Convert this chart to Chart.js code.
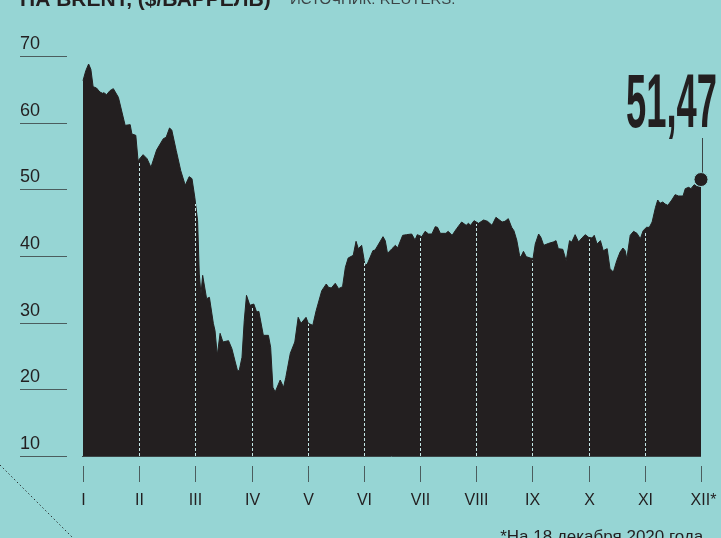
<!DOCTYPE html>
<html>
<head>
<meta charset="utf-8">
<script src="https://cdn.jsdelivr.net/npm/chart.js@4.4.0/dist/chart.umd.min.js"></script>
<style>
  html, body { margin: 0; padding: 0; background: #96d5d4; }
  #myChart { display: block; }
</style>
</head>
<body>
<canvas id="myChart" width="721" height="538" style="width:721px;height:538px"></canvas>
<script>
// month labels on the x axis (position 0 = January)
const monthLabels = ["I", "II", "III", "IV", "V", "VI", "VII", "VIII", "IX", "X", "XI", "XII*"];
const yTicks = [10, 20, 30, 40, 50, 60, 70];

// Brent price, $/barrel, position in months from 1 January
const monthPos = [
  0, 0.05, 0.10, 0.14, 0.18, 0.24, 0.30, 0.35, 0.37, 0.42, 0.48, 0.54, 0.63, 0.75, 0.84, 0.87, 0.94, 0.98,
  1.07, 1.14, 1.21, 1.31, 1.43, 1.48, 1.54, 1.58, 1.66, 1.74, 1.82, 1.89, 1.94, 1.99,
  2.04, 2.07, 2.10, 2.13, 2.20, 2.25, 2.32, 2.35, 2.39, 2.44, 2.49, 2.59, 2.65, 2.71, 2.75, 2.78, 2.83, 2.87, 2.91, 2.97,
  3.04, 3.09, 3.13, 3.21, 3.30, 3.34, 3.38, 3.42, 3.51, 3.57, 3.61, 3.69, 3.77, 3.83, 3.88, 3.97,
  4.01, 4.09, 4.15, 4.25, 4.33, 4.37, 4.42, 4.49, 4.55, 4.62, 4.67, 4.72, 4.81, 4.86, 4.90, 4.96,
  5.02, 5.06, 5.16, 5.20, 5.34, 5.38, 5.42, 5.50, 5.56, 5.60, 5.69, 5.76, 5.85, 5.91, 5.95,
  6.03, 6.09, 6.15, 6.21, 6.27, 6.31, 6.36, 6.46, 6.50, 6.57, 6.65, 6.74, 6.82, 6.86, 6.90, 6.96,
  7.04, 7.13, 7.20, 7.28, 7.35, 7.46, 7.51, 7.57, 7.63, 7.67, 7.72, 7.77, 7.79, 7.84, 7.89, 7.96,
  8.01, 8.05, 8.11, 8.15, 8.20, 8.29, 8.37, 8.42, 8.46, 8.54, 8.60, 8.66, 8.70, 8.76, 8.82, 8.88, 8.94,
  9.00, 9.06, 9.10, 9.15, 9.21, 9.26, 9.33, 9.38, 9.44, 9.50, 9.56, 9.61, 9.65, 9.68, 9.74, 9.80, 9.86, 9.92, 9.97,
  10.03, 10.08, 10.13, 10.19, 10.23, 10.27, 10.32, 10.36, 10.41, 10.48, 10.54, 10.60, 10.68, 10.72, 10.78, 10.82, 10.88, 10.93,
  11.00
];
const prices = [
  66.3, 67.8, 68.8, 68.0, 65.4, 65.2, 64.6, 64.4, 64.5, 64.2, 64.8, 65.1, 63.8, 59.6, 59.7, 58.3, 58.1, 54.3,
  55.2, 54.6, 53.3, 55.9, 57.6, 57.8, 59.2, 58.9, 55.8, 52.8, 50.6, 51.9, 51.6, 48.8,
  45.3, 37.3, 34.3, 37.1, 33.6, 33.8, 29.9, 28.8, 25.1, 28.4, 27.1, 27.3, 26.1, 24.1, 22.8, 22.8, 24.8, 30.3, 34.1, 32.6,
  32.8, 31.6, 31.7, 28.1, 28.1, 26.3, 20.3, 19.6, 21.4, 20.3, 21.8, 25.4, 27.1, 30.8, 29.9, 30.8,
  29.9, 29.6, 31.8, 34.8, 35.8, 35.3, 35.2, 35.9, 35.1, 35.4, 38.3, 39.7, 40.1, 42.2, 41.1, 41.6,
  38.6, 38.8, 40.8, 40.9, 42.9, 42.3, 40.4, 41.1, 41.6, 41.2, 43.1, 43.2, 43.3, 42.4, 43.2,
  42.9, 43.7, 43.3, 43.3, 44.4, 44.3, 43.4, 43.4, 43.7, 43.1, 44.1, 45.1, 44.6, 44.9, 44.6, 45.3,
  44.9, 45.4, 45.2, 44.6, 45.8, 45.1, 45.2, 45.6, 44.3, 43.8, 42.4, 40.1, 39.8, 40.7, 39.9, 39.7,
  39.6, 41.8, 43.3, 42.8, 41.6, 41.9, 42.1, 42.3, 41.1, 41.0, 39.3, 42.3, 42.1, 43.2, 42.1, 42.7, 43.2,
  42.8, 42.7, 43.1, 41.8, 42.3, 40.8, 41.1, 38.1, 37.6, 39.3, 40.6, 41.2, 40.8, 39.6, 43.1, 43.7, 43.4, 42.6, 43.8,
  44.3, 44.3, 45.1, 47.3, 48.4, 47.9, 48.1, 47.8, 47.6, 48.4, 49.2, 49.0, 49.0, 50.1, 50.3, 50.1, 50.7, 50.4,
  51.47
];
const lastPriceText = "51,47";

const bg = "#96d5d4";
const ink = "#231f20";

// price at any month position, for the dashed month lines
function priceAt(t) {
  for (let i = 1; i < monthPos.length; i++) {
    if (monthPos[i] >= t) {
      const a = monthPos[i - 1], b = monthPos[i];
      const k = b === a ? 0 : (t - a) / (b - a);
      return prices[i - 1] + (prices[i] - prices[i - 1]) * k;
    }
  }
  return prices[prices.length - 1];
}

const decor = {
  id: "decor",
  beforeDraw(chart) {
    const c = chart.ctx;
    c.save();
    c.fillStyle = bg;
    c.fillRect(0, 0, chart.width, chart.height);
    c.restore();
  },
  afterDatasetsDraw(chart) {
    const c = chart.ctx;
    const x = chart.scales.x, y = chart.scales.y;
    const base = y.getPixelForValue(10);
    c.save();
    // dashed month separators inside the area
    c.strokeStyle = "#c4e6e5";
    c.lineWidth = 1;
    c.setLineDash([3, 2]);
    for (let m = 1; m <= 10; m++) {
      const px = Math.round(x.getPixelForValue(m)) + 0.5;
      c.beginPath();
      c.moveTo(px, base);
      c.lineTo(px, y.getPixelForValue(priceAt(m)) + 2);
      c.stroke();
    }
    c.restore();
  },
  afterDraw(chart) {
    const c = chart.ctx;
    const x = chart.scales.x, y = chart.scales.y;
    c.save();

    // title (cut off by the top edge)
    c.fillStyle = ink;
    c.textBaseline = "alphabetic";
    c.font = "bold 21px 'Liberation Sans', Arial, sans-serif";
    c.fillText("НА BRENT, ($/БАРРЕЛЬ)", 20, 6);
    c.fillStyle = "#3c4446";
    c.font = "15px 'Liberation Sans', Arial, sans-serif";
    c.fillText("ИСТОЧНИК: REUTERS.", 290, 4);

    // y labels with short rules
    c.font = "18px 'Liberation Sans', Arial, sans-serif";
    yTicks.forEach(v => {
      const py = Math.round(y.getPixelForValue(v)) + 0.5;
      c.strokeStyle = "#4b5d5e";
      c.lineWidth = 1.2;
      c.beginPath();
      c.moveTo(20, py);
      c.lineTo(67, py);
      c.stroke();
      c.fillStyle = ink;
      c.textAlign = "left";
      c.fillText(String(v), 20, py - 8);
    });

    // baseline
    const base = Math.round(y.getPixelForValue(10)) + 0.5;
    c.strokeStyle = "#3b4546";
    c.lineWidth = 1;
    c.beginPath();
    c.moveTo(x.getPixelForValue(0) - 1, base);
    c.lineTo(x.getPixelForValue(11), base);
    c.stroke();

    // month ticks and labels
    c.font = "16px 'Liberation Sans', Arial, sans-serif";
    c.textAlign = "center";
    monthLabels.forEach((lab, i) => {
      const px = Math.round(x.getPixelForValue(i)) + 0.5;
      c.strokeStyle = "#4b5d5e";
      c.beginPath();
      c.moveTo(px, 466);
      c.lineTo(px, 482);
      c.stroke();
      c.fillStyle = ink;
      c.fillText(lab, px + (lab.endsWith("*") ? 2 : 0), 505);
    });

    // footnote
    c.textAlign = "right";
    c.font = "17px 'Liberation Sans', Arial, sans-serif";
    c.fillText("*На 18 декабря 2020 года.", 708, 542);

    // dotted diagonal in the corner
    c.strokeStyle = "#2c3334";
    c.lineWidth = 1;
    c.setLineDash([1.5, 2.5]);
    c.beginPath();
    c.moveTo(0, 465);
    c.lineTo(73, 538);
    c.stroke();
    c.setLineDash([]);

    // last value callout
    const lx = x.getPixelForValue(11) + 1;
    const ly = y.getPixelForValue(prices[prices.length - 1]);
    c.strokeStyle = "#3b4546";
    c.beginPath();
    c.moveTo(Math.round(lx) + 0.5, 138);
    c.lineTo(Math.round(lx) + 0.5, ly - 7);
    c.stroke();

    c.font = "bold 76px 'Liberation Sans', Arial, sans-serif";
    const w = c.measureText(lastPriceText).width;
    const sx = 91 / w;
    c.translate(717, 127);
    c.scale(sx, 1);
    c.textAlign = "right";
    c.fillStyle = ink;
    c.fillText(lastPriceText, 0, 0);
    c.restore();
  }
};

const ctx = document.getElementById("myChart").getContext("2d");
const lastIdx = prices.length - 1;
const myChart = new Chart(ctx, {
  type: "line",
  data: {
    datasets: [{
      data: monthPos.map((m, i) => ({ x: m, y: prices[i] })),
      fill: "start",
      backgroundColor: ink,
      borderColor: ink,
      borderWidth: 1,
      tension: 0,
      clip: false,
      pointRadius: c => (c.dataIndex === lastIdx ? 7 : 0),
      pointBackgroundColor: ink,
      pointBorderColor: bg,
      pointBorderWidth: 1
    }]
  },
  options: {
    responsive: false,
    animation: false,
    layout: { padding: { left: 83, right: 20, top: 56, bottom: 82 } },
    scales: {
      x: { type: "linear", min: 0, max: 11, display: false },
      y: { min: 10, max: 70, display: false }
    },
    plugins: { legend: { display: false }, tooltip: { enabled: false } }
  },
  plugins: [decor]
});
</script>
</body>
</html>
